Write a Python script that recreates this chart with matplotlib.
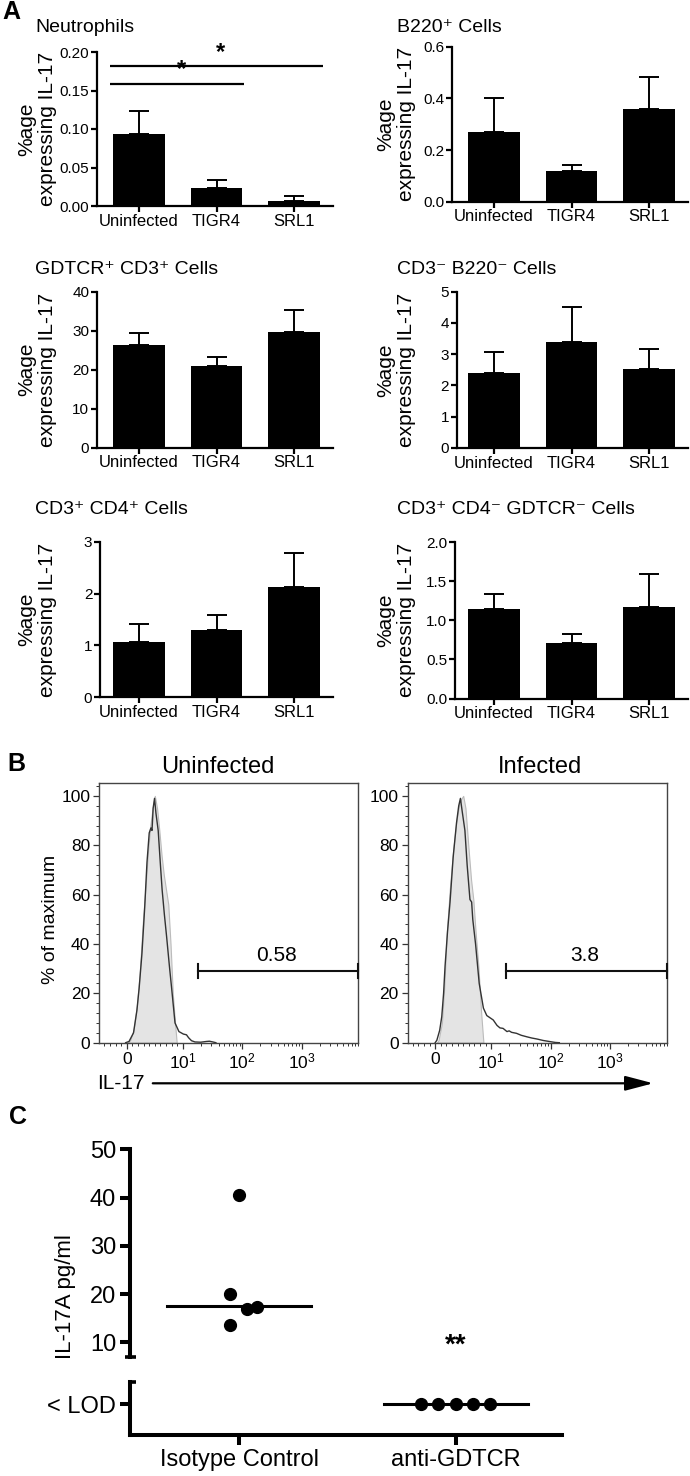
import numpy as np
import matplotlib
matplotlib.use("Agg")
import matplotlib.pyplot as plt
from matplotlib.ticker import FixedLocator, NullFormatter, MultipleLocator

plt.rcParams['font.family'] = ['Liberation Sans', 'DejaVu Sans']
plt.rcParams['mathtext.fontset'] = 'custom'
plt.rcParams['mathtext.rm'] = 'Liberation Sans'
plt.rcParams['mathtext.it'] = 'Liberation Sans:italic'
plt.rcParams['mathtext.bf'] = 'Liberation Sans:bold'

# ---------------- data ----------------
groups = ["Uninfected", "TIGR4", "SRL1"]

neut_mean = [0.093, 0.024, 0.006]
neut_err = [0.030, 0.0095, 0.0066]
b220_mean = [0.269, 0.119, 0.360]
b220_err = [0.134, 0.022, 0.121]
gdtcr_mean = [26.4, 20.9, 29.7]
gdtcr_err = [3.1, 2.4, 5.7]
dn_mean = [2.41, 3.38, 2.52]
dn_err = [0.67, 1.14, 0.64]
cd4_mean = [1.06, 1.29, 2.13]
cd4_err = [0.35, 0.30, 0.65]
cd8_mean = [1.14, 0.705, 1.17]
cd8_err = [0.20, 0.115, 0.43]

neut_ticks = [0.00, 0.05, 0.10, 0.15, 0.20]
b220_ticks = [0.0, 0.2, 0.4, 0.6]
gdtcr_ticks = [0, 10, 20, 30, 40]
dn_ticks = [0, 1, 2, 3, 4, 5]
cd4_ticks = [0, 1, 2, 3]
cd8_ticks = [0.0, 0.5, 1.0, 1.5, 2.0]

sig_lines = [(0, 2, 0.182, "*"), (0, 1, 0.159, "*")]

# flow histograms (IL-17 value, % of max)
unif_line_x = [-0.2, 0.4, 1.2, 1.8, 2.2, 2.7, 3.2, 3.6, 4.0, 4.3, 4.5, 4.7, 4.95, 5.2, 5.6, 6.0, 6.3, 6.7, 7.1, 7.6,
               8.0, 8.6, 9.3, 10.2, 11.5, 12.5, 14, 16, 20, 25, 28, 32, 36]
unif_line_y = [0, 0.5, 4, 13, 22, 36, 55, 73, 85, 87, 86, 95, 99, 93, 86, 72, 62, 52, 43, 31,
               22, 8, 4.5, 3.5, 3.2, 2, 0.8, 0.3, 0.2, 0.5, 0.6, 0.3, 0]
unif_fill_x = [0.2, 0.6, 1.2, 1.8, 2.3, 2.9, 3.4, 3.8, 4.2, 4.6, 5.0, 5.4, 5.8, 6.2, 6.6, 7.0, 7.4, 7.8, 8.2, 8.6, 8.9]
unif_fill_y = [0, 1, 5, 15, 28, 50, 65, 78, 88, 95, 100, 95, 86, 76, 68, 62, 56, 40, 20, 8, 0]

inf_line_x = [0.0, 0.3, 0.8, 1.17, 1.5, 1.76, 2.2, 2.65, 3.2, 3.8, 4.2, 4.5, 4.8, 5.3, 5.7, 6.2, 6.5, 6.7, 7.2, 7.85,
              8.6, 9.2, 10.8, 12.5, 14, 15.8, 18.4, 20, 22, 26.6, 32, 39.6, 48, 58.7, 75, 100, 120, 140]
inf_line_y = [0, 1, 5, 10.5, 20, 31, 45, 57, 75, 89, 96, 99, 94, 86, 72, 58, 57, 50, 40, 24,
              14, 11, 9.2, 7, 6, 5.8, 4.5, 4.8, 4.2, 3.8, 3.0, 2.4, 1.9, 1.5, 0.9, 0.4, 0.1, 0]
inf_fill_x = [0.3, 0.6, 1.2, 1.6, 2.06, 2.6, 3.2, 3.8, 4.3, 4.7, 5.0, 5.4, 5.9, 6.4, 6.8, 7.2, 7.7, 8.2, 8.6]
inf_fill_y = [0, 1, 8, 22, 44, 62, 78, 90, 97, 99, 100, 95, 80, 66, 58, 45, 31, 12, 0]

gate_start = 18
gate_level = 29
gate_pct = ["0.58", "3.8"]
hist_titles = ["Uninfected", "Infected"]

# ELISA
elisa_groups = ["Isotype Control", "anti-GDTCR"]
iso_values = [20.0, 40.5, 16.8, 17.4, 13.6]
iso_offset = [-0.042, 0.0, 0.038, 0.082, -0.042]
iso_median = 17.5
anti_values = [0, 0, 0, 0, 0]  # below LOD
anti_offset = [-0.16, -0.08, 0.0, 0.08, 0.16]
anti_median = 0

# ---------------- figure ----------------
W, H = 690, 1476
fig = plt.figure(figsize=(W / 100, H / 100), dpi=100)


def px_axes(l, t, r, b):
    return fig.add_axes([l / W, 1 - b / H, (r - l) / W, (b - t) / H])


def ftext(x, y, s, **kw):
    return fig.text(x / W, 1 - y / H, s, **kw)


spacing = 77.5
left_c0, right_c0 = 139, 494

panels = [
    # title, mean, err, ticks, fmt, (l,t,r,b), c0, title pos
    ("Neutrophils", neut_mean, neut_err, neut_ticks, "{:.2f}", (97, 52, 333, 206), left_c0, (35, 27)),
    ("B220\u207A Cells", b220_mean, b220_err, b220_ticks, "{:.1f}", (451.7, 46.7, 688, 201.7), right_c0, (397, 27)),
    ("GDTCR\u207A CD3\u207A Cells", gdtcr_mean, gdtcr_err, gdtcr_ticks, "{:.0f}", (97, 291.7, 333, 447.7), left_c0, (35, 269)),
    ("CD3\u207B B220\u207B Cells", dn_mean, dn_err, dn_ticks, "{:.0f}", (456.7, 291.7, 688, 447.9), right_c0, (397, 269)),
    ("CD3\u207A CD4\u207A Cells", cd4_mean, cd4_err, cd4_ticks, "{:.0f}", (100, 541.7, 333, 697.2), left_c0, (35, 510)),
    ("CD3\u207A CD4\u207B GDTCR\u207B Cells", cd8_mean, cd8_err, cd8_ticks, "{:.1f}", (455, 542.3, 688, 698.5), right_c0, (397, 510)),
]

xpos = np.arange(len(groups))
for i, (title, mean, err, ticks, fmt, box, c0, tpos) in enumerate(panels):
    l, t, r, b = box
    ax = px_axes(l, t, r, b)
    ax.bar(xpos, mean, width=0.67, color="black", zorder=2)
    ax.errorbar(xpos, mean, yerr=[np.zeros(3), err], fmt="none", ecolor="black",
                elinewidth=1.4, capsize=7, capthick=1.4, zorder=3)
    ax.set_xlim(-(c0 - l) / spacing, (r - c0) / spacing)
    ax.set_ylim(ticks[0], ticks[-1])
    ax.set_yticks(ticks)
    ax.set_yticklabels([fmt.format(v) for v in ticks])
    ax.set_xticks(xpos)
    ax.set_xticklabels(groups)
    for s in ["top", "right"]:
        ax.spines[s].set_visible(False)
    for s in ["left", "bottom"]:
        ax.spines[s].set_linewidth(1.6)
    ax.tick_params(axis="both", direction="out", length=4, width=1.6, pad=1.5)
    ax.tick_params(axis="y", labelsize=11)
    ax.tick_params(axis="x", labelsize=12)
    ftext(tpos[0], tpos[1], title, fontsize=14, ha="left", va="center")
    lab_x = 37 if c0 == left_c0 else 396
    ftext(lab_x, (t + b) / 2, "%age\nexpressing IL-17", rotation=90, ha="center", va="center",
          fontsize=15, linespacing=1.08, multialignment="center")
    if i == 0:
        for g0, g1, yv, star in sig_lines:
            ax.plot([g0 - 0.374, g1 + 0.374 - (0.02 if g1 == 1 else 0)], [yv, yv], color="black",
                    lw=1.6, clip_on=False, solid_capstyle="butt")
            ax.text((g0 + g1) / 2 + 0.05, yv + 0.003, star, ha="center", va="bottom",
                    fontsize=17, fontweight="bold")

ftext(11, 12, "A", fontsize=18, fontweight="bold", ha="center", va="center")

# ---------------- panel B ----------------
hist_boxes = [(99.3, 783.3, 358.3, 1042.7), (407.7, 783.3, 666.7, 1042.7)]
hist_data = [(unif_fill_x, unif_fill_y, unif_line_x, unif_line_y),
             (inf_fill_x, inf_fill_y, inf_line_x, inf_line_y)]
title_x = [218, 540]
xmin, xmax = -4.9, 9000
minor_x = [-4, -3, -2, -1, 1, 2, 3, 4, 5, 6, 7, 8, 9] + \
          [m * 10 ** k for k in (1, 2, 3) for m in range(2, 10)]
for k in range(2):
    l, t, r, b = hist_boxes[k]
    ax = px_axes(l, t, r, b)
    ax.set_xscale("symlog", linthresh=10, linscale=0.85)
    fx, fy, lx, ly = hist_data[k]
    ax.fill_between(fx, fy, 0, color="#e4e4e4", edgecolor="#bbbbbb", lw=0.8, zorder=1)
    ax.plot(lx, ly, color="#333333", lw=1.0, zorder=2)
    ax.set_xlim(xmin, xmax)
    ax.set_ylim(0, 105.1)
    ax.xaxis.set_major_locator(FixedLocator([0, 10, 100, 1000]))
    ax.set_xticklabels(["0", r"$\mathregular{10^{1}}$", r"$\mathregular{10^{2}}$", r"$\mathregular{10^{3}}$"])
    ax.xaxis.set_minor_locator(FixedLocator(minor_x))
    ax.xaxis.set_minor_formatter(NullFormatter())
    ax.set_yticks([0, 20, 40, 60, 80, 100])
    ax.yaxis.set_minor_locator(MultipleLocator(4))
    for s in ax.spines.values():
        s.set_linewidth(1.0)
        s.set_color("#444444")
    ax.tick_params(axis="both", which="major", direction="out", length=4.5, width=0.9,
                   labelsize=12.5, pad=2, color="#333333")
    ax.tick_params(axis="both", which="minor", direction="out", length=2.5, width=0.7, color="#333333")
    # gate
    ax.plot([gate_start, xmax], [gate_level, gate_level], color="#111111", lw=1.5, clip_on=False, zorder=4)
    for gx in (gate_start, xmax):
        ax.plot([gx, gx], [gate_level - 2.9, gate_level + 2.9], color="#111111", lw=1.5,
                clip_on=False, zorder=4)
    ax.text(np.sqrt(gate_start * xmax) * 0.93, gate_level + 2.6, gate_pct[k], ha="center", va="bottom",
            fontsize=15)
    ftext(title_x[k], 767, hist_titles[k], fontsize=17, ha="center", va="center")

ftext(50.5, 919, "% of maximum", rotation=90, ha="center", va="center", fontsize=14)
ftext(16.5, 763.5, "B", fontsize=18, fontweight="bold", ha="center", va="center")
ftext(96.7, 1083.3, "IL-17", fontsize=15, ha="left", va="center")
fig.add_artist(matplotlib.patches.FancyArrowPatch(
    (150 / W, 1 - 1083.3 / H), (656 / W, 1 - 1083.3 / H), transform=fig.transFigure,
    arrowstyle="-|>,head_length=0.95,head_width=0.25", mutation_scale=18, lw=1.6, color="black"))

# ---------------- panel C ----------------
ftext(17.5, 1117, "C", fontsize=18, fontweight="bold", ha="center", va="center")
c_left, c_right = 130, 562
c_c0, c_sp = 239, 216.7
xl = (-(c_c0 - c_left) / c_sp, (c_right - c_c0) / c_sp)
px_per = 4.825

axu = px_axes(c_left, 1149.3, c_right, 1356.7)
axu.set_xlim(*xl)
axu.set_ylim(50 - (1356.7 - 1149.3) / px_per, 50)
axd = px_axes(c_left, 1381.7, c_right, 1435)
axd.set_xlim(*xl)
axd.set_ylim(-(1435 - 1404.3) / px_per, (1404.3 - 1381.7) / px_per)

axu.plot(np.array(iso_offset), iso_values, "o", color="black", ms=8.5, zorder=3)
axu.plot([-0.332, 0.332], [iso_median, iso_median], color="black", lw=2.2, zorder=2)
axu.text(1, 9.4, "**", ha="center", va="center", fontsize=20, fontweight="bold")
axd.plot(1 + np.array(anti_offset), anti_values, "o", color="black", ms=8.5, zorder=3, clip_on=False)
axd.plot([1 - 0.332, 1 + 0.332], [anti_median, anti_median], color="black", lw=2.2, zorder=2)

for a in (axu, axd):
    for s in ["top", "right"]:
        a.spines[s].set_visible(False)
    a.spines["left"].set_linewidth(2.9)
    a.spines["bottom"].set_linewidth(2.9)
    a.tick_params(axis="both", direction="out", length=7, width=2.9, labelsize=17, pad=3)
axu.spines["bottom"].set_visible(False)
axu.set_xticks([])
axu.set_yticks([10, 20, 30, 40, 50])
axd.set_yticks([0])
axd.set_yticklabels(["< LOD"])
axd.set_xticks([0, 1])
axd.set_xticklabels(elisa_groups)
# axis break serifs
axu.plot([-0.012, 0.014], [0, 0], transform=axu.transAxes, color="black", lw=2.6, clip_on=False,
         solid_capstyle="butt")
axd.plot([-0.004, 0.014], [1, 1], transform=axd.transAxes, color="black", lw=2.6, clip_on=False,
         solid_capstyle="butt")

ftext(65, 1297, "IL-17A pg/ml", rotation=90, ha="center", va="center", fontsize=16)

fig.savefig("out.png", dpi=100)
